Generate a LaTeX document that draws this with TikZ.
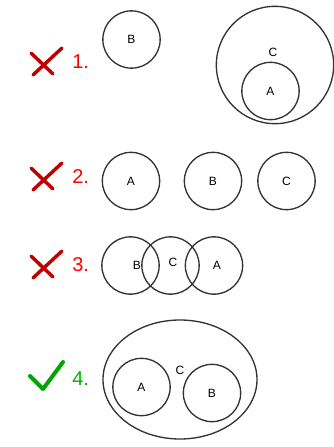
\documentclass[tikz,border=0pt]{standalone}
\usepackage{fontspec}
\setmainfont{Liberation Sans}

\begin{document}
\begin{tikzpicture}[x=0.75pt,y=-0.75pt,
  ring/.style={draw=black!80,line width=1pt,circle,inner sep=0pt,minimum size=43pt,font=\fontsize{9}{10}\selectfont},
  letter/.style={font=\fontsize{9}{10}\selectfont,inner sep=0pt},
  num/.style={anchor=west,font=\fontsize{15}{18}\selectfont,inner sep=0pt},
  wrong/.style={draw=red!75!black,line width=2.6pt,line cap=round},
  right/.style={draw=green!65!black,line width=3pt,line cap=round,line join=round},
]
\useasboundingbox (0,0) rectangle (334,447);
% wrong answers
\foreach \y/\n in {62/1,177/2,265/3}{
  \draw[wrong] (62,\y-14)--(33,\y+13) (31,\y-9)--(53,\y+12);
  \node[num,text=red] (n\n) at (72,\y) {\n.};
}
% 1.
\node[ring] (b1) at (131.5,39.5) {B};
\node[ring,minimum size=88pt] (c1) at (275,65) {};
\node[ring] (a1) at (270.5,91) {A};
\node[letter] (lc1) at (273,52) {C};
% 2.
\foreach \x/\lab in {131/A,213/B,286.5/C}
  \node[ring] (r2\lab) at (\x,181) {\lab};
% 3.
\node[ring] (b3) at (130.5,265.5) {};
\node[ring] (c3) at (170.5,265.5) {};
\node[ring] (a3) at (214,265.5) {};
\node[letter] (lb3) at (137,265) {B};
\node[letter] (lc3) at (173,262) {C};
\node[letter] (la3) at (217,265) {A};
% 4. (right)
\draw[right] (30,376)--(43,389)--(63,362);
\node[num,text=green!70!black] (n4) at (72,379) {4.};
\draw[draw=black!80,line width=1pt] (180,379.5) ellipse [x radius=77,y radius=59.5];
\node[ring] (a4) at (141.5,387) {A};
\node[ring] (b4) at (212,393) {B};
\node[letter] (lc4) at (180,370) {C};
\end{tikzpicture}
\end{document}
